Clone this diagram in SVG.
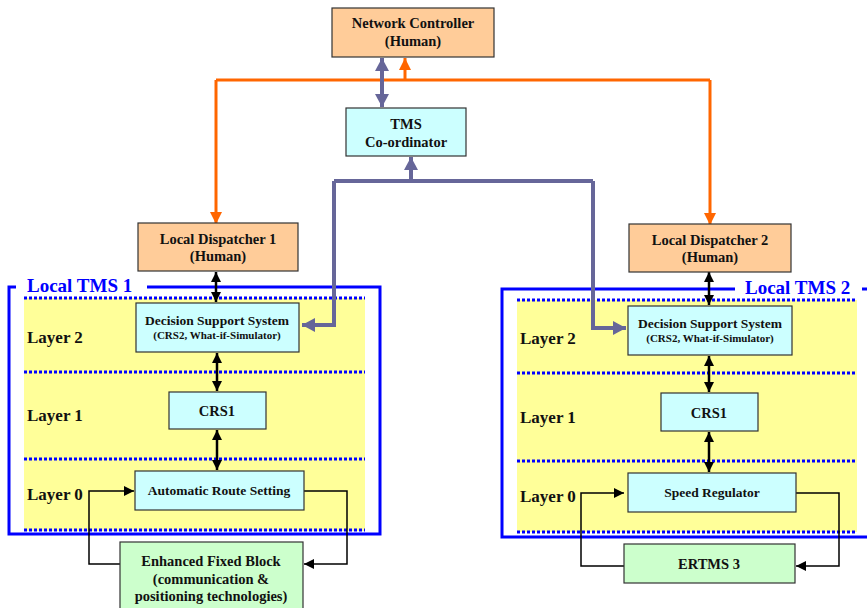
<svg xmlns="http://www.w3.org/2000/svg" width="867" height="608" viewBox="0 0 867 608">
<style>
text{font-family:"Liberation Serif","Times New Roman",serif;font-weight:bold;fill:#111;text-anchor:middle}
.t13{font-size:14.5px}
.t12{font-size:13.5px}
.t10{font-size:11px}
.lay{font-size:17px;text-anchor:start}
.tms{font-size:19px;fill:#0000FF;text-anchor:start}
.box{stroke:#333;stroke-width:1.2}
.or{fill:#FFCC99}
.cy{fill:#CCFFFF}
.gr{fill:#CCFFCC}
.band{fill:#FFFF99}
.dot{stroke:#0000FF;stroke-width:3;stroke-dasharray:3,2;fill:none}
.blue{stroke:#0000FF;stroke-width:3;fill:none}
.oline{stroke:#FF6600;stroke-width:3;fill:none}
.pline{stroke:#666699;stroke-width:4;fill:none}
.bline{stroke:#000;stroke-width:2.5;fill:none}
.loop{stroke:#000;stroke-width:1.5;fill:none}
</style>
<defs>
<marker id="ma-o" markerUnits="userSpaceOnUse" viewBox="0 0 12 12" markerWidth="12" markerHeight="12" refX="12" refY="6" orient="auto-start-reverse"><path d="M0,0 L12,6 L0,12 z" fill="#FF6600"/></marker>
<marker id="ma-p" markerUnits="userSpaceOnUse" viewBox="0 0 13 14" markerWidth="13" markerHeight="14" refX="13" refY="7" orient="auto-start-reverse"><path d="M0,0 L13,7 L0,14 z" fill="#666699"/></marker>
<marker id="ma-b" markerUnits="userSpaceOnUse" viewBox="0 0 10 10" markerWidth="10" markerHeight="10" refX="10" refY="5" orient="auto-start-reverse"><path d="M0,0 L10,5 L0,10 z" fill="#000"/></marker>
</defs>

<!-- Local TMS areas -->
<g id="local-tms-1">
<rect class="band" x="24" y="298" width="341" height="233"/>
<line class="dot" x1="24" y1="298" x2="365" y2="298"/>
<line class="dot" x1="24" y1="372" x2="365" y2="372"/>
<line class="dot" x1="24" y1="459" x2="365" y2="459"/>
<line class="dot" x1="24" y1="530" x2="365" y2="530"/>
<path class="blue" d="M16,287 L9,287 L9,534 L380,534 L380,287 L147,287"/>
<text class="tms" x="27" y="292">Local TMS 1</text>
<text class="lay" x="27" y="343">Layer 2</text>
<text class="lay" x="27" y="421">Layer 1</text>
<text class="lay" x="27" y="500">Layer 0</text>
</g>
<g id="local-tms-2">
<rect class="band" x="517" y="300" width="340" height="232"/>
<line class="dot" x1="517" y1="300" x2="857" y2="300"/>
<line class="dot" x1="517" y1="373" x2="857" y2="373"/>
<line class="dot" x1="517" y1="461" x2="857" y2="461"/>
<line class="dot" x1="517" y1="532" x2="857" y2="532"/>
<path class="blue" d="M735,289 L502,289 L502,537 L870,537"/>
<line class="blue" x1="862" y1="289" x2="870" y2="289"/>
<text class="tms" x="745" y="294">Local TMS 2</text>
<text class="lay" x="520" y="344">Layer 2</text>
<text class="lay" x="520" y="423">Layer 1</text>
<text class="lay" x="520" y="502">Layer 0</text>
</g>

<!-- Connectors -->
<g id="connectors">
<path class="oline" d="M216,80 L710,80"/>
<path class="oline" d="M216,80 L216,224" marker-end="url(#ma-o)"/>
<path class="oline" d="M710,80 L710,225" marker-end="url(#ma-o)"/>
<path class="oline" d="M405,80 L405,58" marker-end="url(#ma-o)"/>
<path class="pline" d="M382,58 L382,107" marker-start="url(#ma-p)" marker-end="url(#ma-p)"/>
<path class="pline" d="M334,181 L593,181"/>
<path class="pline" d="M411,181 L411,157" marker-end="url(#ma-p)"/>
<path class="pline" d="M334,181 L334,325 L302,325" marker-end="url(#ma-p)"/>
<path class="pline" d="M593,181 L593,328 L626,328" marker-end="url(#ma-p)"/>
<path class="bline" d="M216,272 L216,302" marker-start="url(#ma-b)" marker-end="url(#ma-b)"/>
<path class="bline" d="M217,353 L217,391" marker-start="url(#ma-b)" marker-end="url(#ma-b)"/>
<path class="bline" d="M217,430 L217,470" marker-start="url(#ma-b)" marker-end="url(#ma-b)"/>
<path class="bline" d="M709,272 L709,305" marker-start="url(#ma-b)" marker-end="url(#ma-b)"/>
<path class="bline" d="M709,356 L709,392" marker-start="url(#ma-b)" marker-end="url(#ma-b)"/>
<path class="bline" d="M709,432 L709,472" marker-start="url(#ma-b)" marker-end="url(#ma-b)"/>
<path class="loop" d="M120,564 L89,564 L89,491 L134,491" marker-end="url(#ma-b)"/>
<path class="loop" d="M304,491 L347,491 L347,564 L304,564" marker-end="url(#ma-b)"/>
<path class="loop" d="M624,566 L581,566 L581,493 L624,493" marker-end="url(#ma-b)"/>
<path class="loop" d="M796,493 L839,493 L839,566 L796,566" marker-end="url(#ma-b)"/>
</g>

<!-- Nodes -->
<g id="network-controller">
<rect class="box or" x="332" y="8" width="162" height="49"/>
<text class="t13" x="413" y="28">Network Controller</text>
<text class="t13" x="413" y="46">(Human)</text>
</g>
<g id="tms-coordinator">
<rect class="box cy" x="346" y="108" width="120" height="48"/>
<text class="t13" x="406" y="129">TMS</text>
<text class="t13" x="406" y="147">Co-ordinator</text>
</g>
<g id="local-dispatcher-1">
<rect class="box or" x="138" y="223" width="160" height="48"/>
<text class="t13" x="218" y="244">Local Dispatcher 1</text>
<text class="t13" x="218" y="261">(Human)</text>
</g>
<g id="local-dispatcher-2">
<rect class="box or" x="629" y="224" width="162" height="48"/>
<text class="t13" x="710" y="245">Local Dispatcher 2</text>
<text class="t13" x="710" y="262">(Human)</text>
</g>
<g id="dss-1">
<rect class="box cy" x="136" y="303" width="163" height="49"/>
<text class="t12" x="217" y="325">Decision Support System</text>
<text class="t10" x="217" y="339">(CRS2, What-if-Simulator)</text>
</g>
<g id="dss-2">
<rect class="box cy" x="628" y="306" width="164" height="49"/>
<text class="t12" x="710" y="328">Decision Support System</text>
<text class="t10" x="710" y="342">(CRS2, What-if-Simulator)</text>
</g>
<g id="crs1-1">
<rect class="box cy" x="169" y="392" width="97" height="37"/>
<text class="t13" x="217" y="416">CRS1</text>
</g>
<g id="crs1-2">
<rect class="box cy" x="661" y="393" width="97" height="38"/>
<text class="t13" x="709" y="418">CRS1</text>
</g>
<g id="ars">
<rect class="box cy" x="135" y="471" width="169" height="39"/>
<text class="t12" x="219" y="495">Automatic Route Setting</text>
</g>
<g id="speed-regulator">
<rect class="box cy" x="628" y="473" width="168" height="39"/>
<text class="t12" x="712" y="497">Speed Regulator</text>
</g>
<g id="enhanced-fixed-block">
<rect class="box gr" x="120" y="542" width="183" height="72"/>
<text class="t13" x="211" y="566">Enhanced Fixed Block</text>
<text class="t13" x="211" y="584">(communication &amp;</text>
<text class="t13" x="211" y="601">positioning technologies)</text>
</g>
<g id="ertms-3">
<rect class="box gr" x="624" y="544" width="171" height="39"/>
<text class="t13" x="709" y="569">ERTMS 3</text>
</g>
</svg>
